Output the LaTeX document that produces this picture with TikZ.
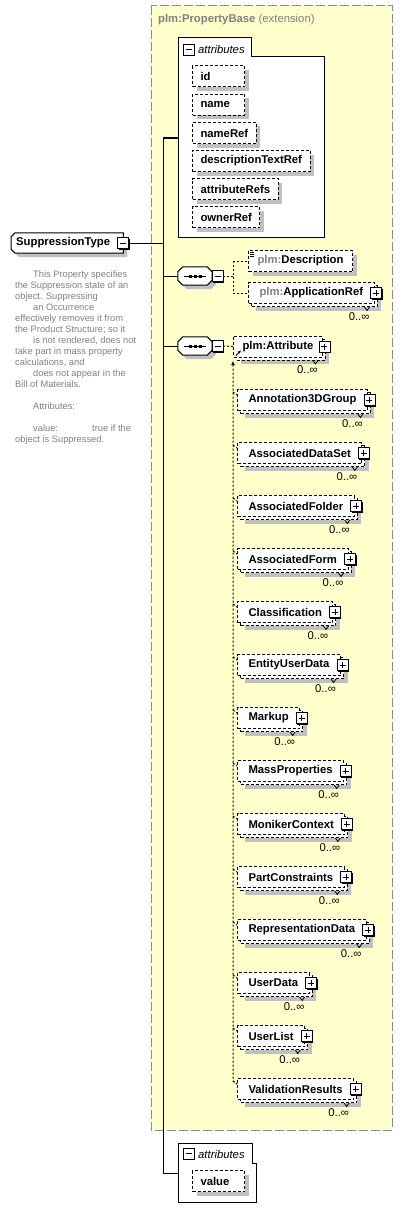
\documentclass[tikz,border=0pt]{standalone}
\usepackage{fontspec}
\setmainfont{Liberation Sans}
\usetikzlibrary{positioning}
\usetikzlibrary{shadows}
\usetikzlibrary{arrows.meta}
\pgfdeclarelayer{paper}
\pgfdeclarelayer{behind}
\pgfsetlayers{paper,behind,main}
\definecolor{extfill}{HTML}{FFFFCC}
\definecolor{extline}{HTML}{8C8C8C}
\definecolor{shade}{HTML}{C0C0C0}
\definecolor{doctext}{HTML}{808080}
\tikzset{
    conn/.style={line width=1pt},
    optconn/.style={line width=1pt, dash pattern=on 2pt off 2pt},
    extbox/.style={fill=extfill, draw=extline, line width=1pt,
        dash pattern=on 9pt off 3pt},
    extlabel/.style={text=doctext, inner sep=0pt,
        font=\fontsize{11.3}{13}\selectfont},
    panel/.style={draw, fill=white, line width=1pt},
    paneltitle/.style={inner sep=0pt,
        font=\fontsize{11.3}{13}\selectfont\itshape},
    boxbase/.style={draw, fill=white, line width=1pt,
        dash pattern=on 3pt off 2pt,
        font=\fontsize{11.3}{13}\selectfont\bfseries,
        minimum height=21pt, inner ysep=0pt},
    attr/.style={boxbase, inner xsep=8pt,
        general shadow={fill=shade, shadow xshift=4pt, shadow yshift=-4pt}},
    elem/.style={attr, inner xsep=9pt},
    elemmany/.style={boxbase, inner xsep=11pt,
        general shadow={fill=shade, shadow xshift=7pt, shadow yshift=-7pt},
        general shadow={draw, fill=white, line width=1pt,
            dash pattern=on 3pt off 2pt, shadow xshift=3pt, shadow yshift=-3pt}},
    rootelem/.style={font=\fontsize{11.3}{13}\selectfont\bfseries,
        minimum height=20pt, inner xsep=5pt, inner ysep=0pt},
    outline/.style={draw, fill=white, line width=1pt,
        general shadow={fill=shade, shadow xshift=4pt, shadow yshift=-4pt}},
    seq/.style={minimum width=34pt, minimum height=18pt, inner sep=0pt},
    occ/.style={inner sep=0pt, font=\fontsize{11.3}{13}\selectfont},
    notch/.style={line width=.8pt},
    doc/.style={text=doctext, align=left, inner sep=0pt,
        font=\fontsize{9.3}{11}\selectfont},
    pics/plusicon/.style={code={
        \fill (-4.5,-4.5) rectangle (6.5,6.5);
        \draw[fill=white, line width=.8pt] (-5.5,-5.5) rectangle (5.5,5.5);
        \draw[line width=.8pt] (-3,0) -- (3,0) (0,-3) -- (0,3);}},
    pics/minusicon/.style={code={
        \fill (-4.5,-4.5) rectangle (6.5,6.5);
        \draw[fill=white, line width=.8pt] (-5.5,-5.5) rectangle (5.5,5.5);
        \draw[line width=.8pt] (-3,0) -- (3,0);}}
}
% plus icon, notch and 0..oo under a repeating element
\newcommand{\manyextras}[1]{%
    \pic at ([xshift=1.5pt]#1.east) {plusicon};
    \draw[notch] ([shift={(-10,3)}]#1.south east) -- ([shift={(-7.5,6.5)}]#1.south east)
        -- ([shift={(-5,3)}]#1.south east);
    \node[occ, anchor=east] (#1-occ) at ([shift={(-5,12.5)}]#1.south east) {0..∞};}

\begin{document}
\begin{tikzpicture}[x=1pt, y=-1pt]
    \begin{pgfonlayer}{paper}
        \fill[white] (0,0) rectangle (403,1220);
    \end{pgfonlayer}
    \useasboundingbox (0,0) rectangle (403,1220);

    % extension base
    \draw[extbox] (151,6) rectangle (392,1130);
    \node[extlabel, anchor=base west] (extlbl) at (158,23)
        {\textbf{plm:PropertyBase} (extension)};

    % root element and documentation
    \node[rootelem, anchor=west] (stype) at (11,243) {SuppressionType\hspace*{8pt}};
    \begin{pgfonlayer}{behind}
        \draw[outline] ([xshift=4pt]stype.north west) -- (stype.north east)
            -- (stype.south east) -- ([xshift=4pt]stype.south west)
            -- ([yshift=4pt]stype.south west) -- ([yshift=-4pt]stype.north west) -- cycle;
    \end{pgfonlayer}
    \pic at (stype.east) {minusicon};
    \node[doc, anchor=north west] (doc) at (15,271) {%
        \hspace*{18pt}This Property specifies\\
        the Suppression state of an\\
        object. Suppressing\\
        \hspace*{18pt}an Occurrence\\
        effectively removes it from\\
        the Product Structure; so it\\
        \hspace*{18pt}is not rendered, does not\\
        take part in mass property\\
        calculations, and\\
        \hspace*{18pt}does not appear in the\\
        Bill of Materials.\\[11pt]
        \hspace*{18pt}Attributes:\\[11pt]
        \hspace*{18pt}\makebox[59pt][l]{value:}true if the\\
        object is Suppressed.};

    % trunk
    \coordinate (trunk) at (163,243);
    \coordinate (trunktop) at (163,138);
    \coordinate (trunkbot) at (163,1173);
    \draw[conn] ([xshift=6pt]stype.east) -- (trunk);
    \draw[conn] (trunktop) -- (trunkbot);

    % inherited attributes
    \draw[panel] (178,38) -| (251,57) -| (324,237) -| cycle;
    \coordinate (panel1) at (178,138);
    \pic at (188.5,49.5) {minusicon};
    \node[paneltitle, anchor=base west] (ptitle1) at (198,54) {attributes};
    \draw[conn] (trunktop) -- (panel1);
    \node[attr, anchor=west] (aid) at (192,76.5) {\makebox[36pt][l]{id}};
    \node[attr, anchor=west] (aname) at (192,105) {\makebox[36pt][l]{name}};
    \node[attr, anchor=west] (anameref) at (192,133) {nameRef};
    \node[attr, anchor=west] (adesc) at (192,161) {descriptionTextRef};
    \node[attr, anchor=west] (aattrrefs) at (192,189) {attributeRefs};
    \node[attr, anchor=west] (aowner) at (192,217) {ownerRef};

    % the two sequences
    \node[seq] (seq1) at (195,276) {};
    \node[seq] (seq2) at (195,346) {};
    \foreach \s in {seq1,seq2} {
        \draw[outline] ([xshift=5pt]\s.north west) -- ([xshift=-5pt]\s.north east)
            -- ([yshift=-5pt]\s.north east) -- ([yshift=5pt]\s.south east)
            -- ([xshift=-5pt]\s.south east) -- ([xshift=5pt]\s.south west)
            -- ([yshift=5pt]\s.south west) -- ([yshift=-5pt]\s.north west) -- cycle;
        \draw ([xshift=-11pt]\s.center) -- ([xshift=11pt]\s.center);
        \foreach \d in {-5,0,5}
            \fill ([xshift=\d pt]\s.center) +(-1.5,-1.5) rectangle +(1.5,1.5);
        \pic at ([xshift=5.5pt]\s.east) {minusicon};
        \draw[conn] (trunk |- \s) -- (\s);
    }
    \coordinate (ch1) at (233,276);
    \node[elem, anchor=west] (desc) at (248,261)
        {{\color{doctext}plm:}Description};
    \draw[line width=.6pt] ([shift={(2,2)}]desc.north west) -- +(4,0)
        ([shift={(2,4)}]desc.north west) -- +(4,0)
        ([shift={(2,6)}]desc.north west) -- +(4,0);
    \node[elemmany, anchor=west] (appref) at (248,293)
        {{\color{doctext}plm:}ApplicationRef};
    \manyextras{appref}
    \draw[optconn] ([xshift=11pt]seq1.east) -- (ch1);
    \draw[optconn] (ch1 |- desc) -- (ch1 |- appref);
    \draw[optconn] (ch1 |- desc) -- (desc.west);
    \draw[optconn] (ch1 |- appref) -- (appref.west);

    % substitution group of plm:Attribute
    \node[elemmany, anchor=west, inner xsep=9pt] (attrhead) at (233,346.5) {plm:Attribute};
    \manyextras{attrhead}
    \draw[-{Latex[length=3pt,width=3pt]}, line width=.8pt]
        ([shift={(3,-2)}]attrhead.south west) -- ([shift={(8,-7)}]attrhead.south west);
    \draw[optconn] ([xshift=11pt]seq2.east) -- (attrhead.west);
    \coordinate (subtop) at (233,361);
    \coordinate (subbot) at (233,1081);

    \foreach \nm/\lbl [count=\k from 0] in {a3dg/Annotation3DGroup,
            adset/AssociatedDataSet, afolder/AssociatedFolder,
            aform/AssociatedForm, classif/Classification,
            eud/EntityUserData, markup/Markup, massp/MassProperties,
            moniker/MonikerContext, partc/PartConstraints,
            repdata/RepresentationData, udata/UserData, ulist/UserList,
            valres/ValidationResults} {
        \node[elemmany, anchor=west] (\nm) at (237,{400+53*\k}) {\lbl};
        \manyextras{\nm}
        \draw[optconn] ([shift={(-4,3)}]\nm.north west) -- ([shift={(0,6)}]\nm.north west);
    }
    \draw[optconn, {Latex[length=4pt,width=4pt]}-] (subtop) -- (subbot)
        -- ([shift={(0,6)}]valres.north west);

    % own attributes
    \draw[panel] (178,1143) -| (252,1163) -| (256,1202) -| cycle;
    \coordinate (panel2) at (178,1173);
    \pic at (188.5,1153.5) {minusicon};
    \node[paneltitle, anchor=base west] (ptitle2) at (198,1158) {attributes};
    \draw[conn] (trunkbot) -- (panel2);
    \node[attr, anchor=west] (aval) at (192,1181) {\makebox[36pt][l]{value}};
\end{tikzpicture}
\end{document}
